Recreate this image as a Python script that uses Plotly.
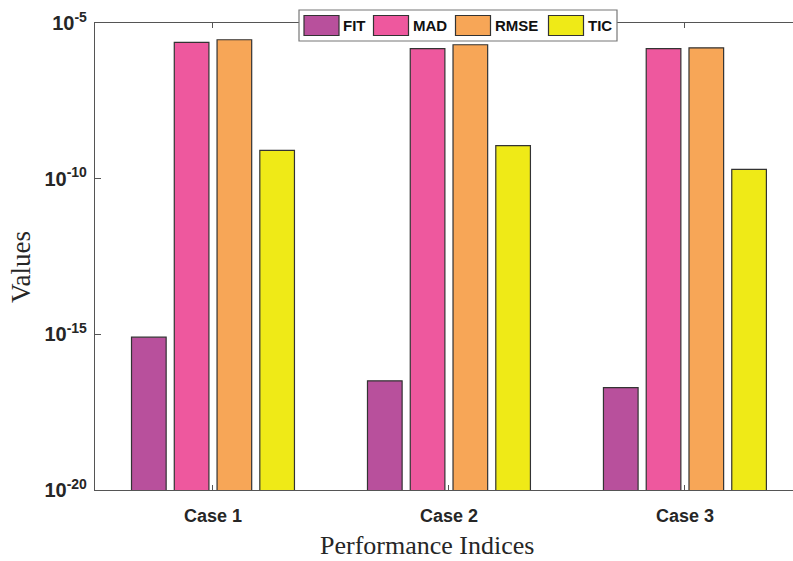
import plotly.graph_objects as go

# Performance indices of the three cases (log-scale values)
cases = ["Case 1", "Case 2", "Case 3"]
series_names = ["FIT", "MAD", "RMSE", "TIC"]
fit_vals = [8.1e-16, 3.2e-17, 1.95e-17]
mad_vals = [2.4e-6, 1.5e-6, 1.5e-6]
rmse_vals = [2.9e-6, 2.0e-6, 1.6e-6]
tic_vals = [8.1e-10, 1.15e-9, 2.0e-10]
series_colors = ["#B8509C", "#EE589E", "#F7A657", "#EFEA17"]

y_tick_vals = [1e-20, 1e-15, 1e-10, 1e-5]
y_tick_text = ["10<sup>-20</sup>", "10<sup>-15</sup>", "10<sup>-10</sup>", "10<sup>-5</sup>"]

W, H = 793, 561
ML, MR, MT, MB = 95, 0, 23, 71
PW, PH = W - ML - MR, H - MT - MB

fig = go.Figure()
for name, vals, col in zip(series_names, [fit_vals, mad_vals, rmse_vals, tic_vals], series_colors):
    fig.add_trace(go.Bar(
        x=cases, y=vals, name=name,
        marker=dict(color=col, line=dict(color="#333333", width=1.2)),
        showlegend=False,
    ))

axis_col = "#555555"
text_col = "#262626"
fig.update_layout(
    width=W, height=H,
    margin=dict(l=ML, r=MR, t=MT, b=MB, pad=0, autoexpand=False),
    paper_bgcolor="white", plot_bgcolor="white",
    barmode="group", bargap=0.275, bargroupgap=0.19,
    xaxis=dict(
        type="category", range=[-0.5, 2.458],
        showline=True, linecolor=axis_col, linewidth=1.2, mirror="ticks",
        ticks="inside", ticklen=5, tickcolor=axis_col,
        tickvals=cases, ticktext=[f"<b>{c}</b>" for c in cases],
        tickfont=dict(family="Liberation Sans, Arial", size=18, color=text_col),
        ticklabelstandoff=9,
        showgrid=False, automargin=False,
    ),
    yaxis=dict(
        type="log", range=[-20, -5],
        showline=True, linecolor=axis_col, linewidth=1.2,
        ticks="inside", ticklen=6, tickcolor=axis_col,
        tickvals=y_tick_vals, ticktext=[f"<b>{t}</b>" for t in y_tick_text],
        tickfont=dict(family="Liberation Sans, Arial", size=20, color=text_col),
        ticklabelstandoff=3,
        showgrid=False, zeroline=False, automargin=False,
    ),
)

# Pixel -> paper coordinate helpers for titles and the legend box
def px_x(px):
    return (px - ML) / PW

def px_y(py):
    return (H - MB - py) / PH

title_font = dict(family="Liberation Serif, Times New Roman", size=26, color=text_col)
annotations = [
    dict(xref="paper", yref="paper", x=px_x(427), y=px_y(545),
         xanchor="center", yanchor="middle", showarrow=False,
         text="Performance Indices", font=title_font),
    dict(xref="paper", yref="paper", x=px_x(21), y=px_y(267),
         xanchor="center", yanchor="middle", showarrow=False, textangle=-90,
         text="Values", font=dict(title_font, size=27)),
]

# Legend drawn as a boxed row of large swatches
shapes = [dict(type="rect", xref="paper", yref="paper", layer="above",
               x0=px_x(299), x1=px_x(617), y0=px_y(41), y1=px_y(10),
               fillcolor="white", line=dict(color="#777777", width=1.2))]
sw_left = [304, 373.5, 455.5, 548.5]
for name, col, x0 in zip(series_names, series_colors, sw_left):
    shapes.append(dict(type="rect", xref="paper", yref="paper", layer="above",
                       x0=px_x(x0), x1=px_x(x0 + 35), y0=px_y(35.5), y1=px_y(15.5),
                       fillcolor=col, line=dict(color="#333333", width=1.2)))
    annotations.append(dict(xref="paper", yref="paper", x=px_x(x0 + 37), y=px_y(25.5),
                            xanchor="left", yanchor="middle", showarrow=False,
                            text=f"<b>{name}</b>",
                            font=dict(family="Liberation Sans, Arial", size=15, color="#111111")))
fig.update_layout(shapes=shapes, annotations=annotations)

fig.write_html("out.html")
